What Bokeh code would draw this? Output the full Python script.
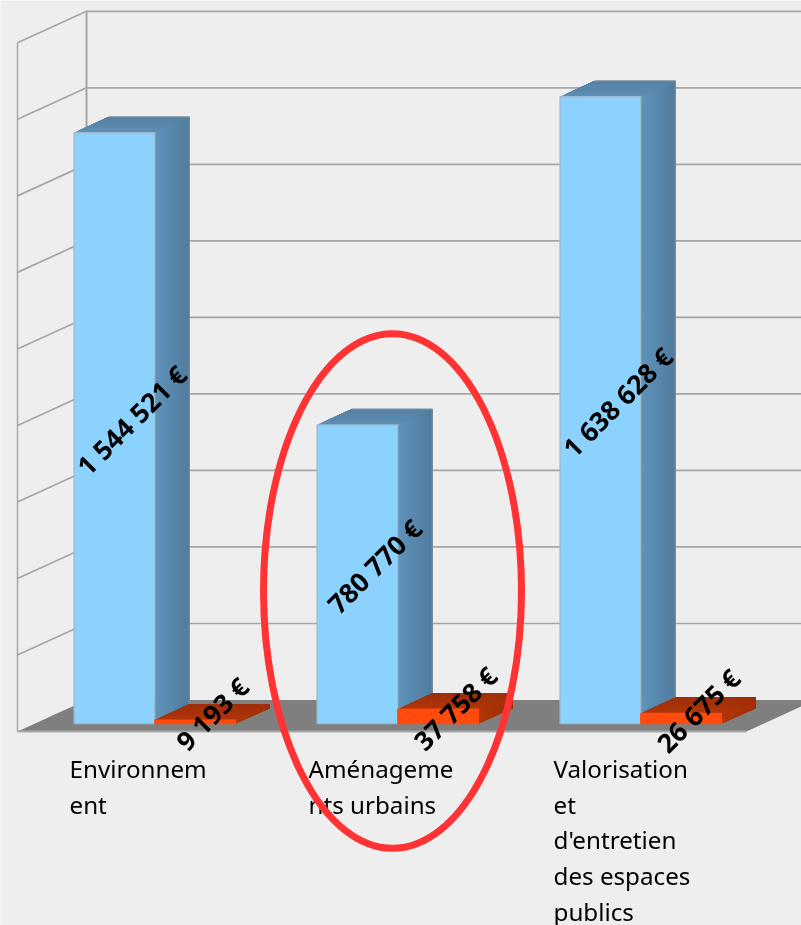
from bokeh.plotting import figure
from bokeh.embed import file_html
from bokeh.resources import INLINE
from bokeh.core.properties import value

categories = [["Environnem", "ent"], ["Aménageme", "nts urbains"],
              ["Valorisation", "et", "d'entretien", "des espaces", "publics"]]
series_a = [1544521, 780770, 1638628]
series_b = [9193, 37758, 26675]
labels_a = ["1 544 521 €", "780 770 €", "1 638 628 €"]
labels_b = ["9 193 €", "37 758 €", "26 675 €"]
ticks = [0, 200000, 400000, 600000, 800000, 1000000, 1200000, 1400000, 1600000, 1800000]
label_offsets = [52, 48, 50]

PX_X = 243.0
PX_Y = 1 / 3.826e-4
WIDTH, HEIGHT = 801, 925
DX = 69 / PX_X
DY = 31.5 * PX_Y
BAR = 80.7 / PX_X
GAP = 39.3 / PX_X
Z0, Z1 = 0.25, 0.75


def xy(x, v, z):
    return x + DX * z, v + DY * z


p = figure(width=WIDTH, height=HEIGHT, output_backend="svg", toolbar_location=None,
           x_range=(-17 / PX_X, (WIDTH - 17) / PX_X),
           y_range=(-(HEIGHT - 731) * PX_Y, 731 * PX_Y),
           min_border=0, outline_line_color=None,
           background_fill_color="#eeeeee", border_fill_color="#eeeeee",
           styles={"position": "fixed", "left": "0", "top": "0"})
p.axis.visible = False
p.grid.visible = False

GRID = "#a6a6a6"
n = len(categories)
top = ticks[-1]
# walls
p.multi_line([[xy(0, v, 0)[0], xy(0, v, 1)[0], xy(n, v, 1)[0]] for v in ticks[1:]],
             [[xy(0, v, 0)[1], xy(0, v, 1)[1], xy(n, v, 1)[1]] for v in ticks[1:]],
             line_color=GRID, line_width=1.7)
p.line([xy(0, 0, 0)[0]] * 2, [0, top], line_color=GRID, line_width=1.5)
p.line([xy(0, 0, 1)[0]] * 2, [xy(0, 0, 1)[1], xy(0, top, 1)[1]], line_color=GRID, line_width=2)
# floor
fx, fy = zip(xy(0, 0, 0), xy(n, 0, 0), xy(n, 0, 1), xy(0, 0, 1))
p.patch(list(fx), list(fy), fill_color="#7f7f7f", line_color=None)
p.line([xy(0, 0, 0)[0], xy(n, 0, 0)[0]], [0, 0], line_color="#a8a8a8", line_width=2)


def mix(c0, c1, t):
    return "#" + "".join(f"{round(a + (b - a) * t):02x}" for a, b in zip(c0, c1))


def box(x, v, front, side0, side1, top0, top1, edge, back_edge, strips=17):
    for i in range(strips):
        t0 = i / strips
        z0 = Z0 + (Z1 - Z0) * t0
        a, b, c, d = xy(x + BAR, 0, z0), xy(x + BAR, 0, Z1), xy(x + BAR, v, Z1), xy(x + BAR, v, z0)
        col = mix(side0, side1, t0 + 0.5 / strips)
        p.patch([a[0], b[0], c[0], d[0]], [a[1], b[1], c[1], d[1]], fill_color=col, line_color=None)
    for i in range(strips):
        t0 = i / strips
        z0 = Z0 + (Z1 - Z0) * t0
        a, b, c, d = xy(x, v, z0), xy(x + BAR, v, z0), xy(x + BAR, v, Z1), xy(x, v, Z1)
        col = mix(top0, top1, t0 + 0.5 / strips)
        p.patch([a[0], b[0], c[0], d[0]], [a[1], b[1], c[1], d[1]], fill_color=col, line_color=None)
    if back_edge:
        a, b, c = xy(x, v, Z1), xy(x + BAR, v, Z1), xy(x + BAR, 0, Z1)
        p.line([a[0], b[0], c[0]], [a[1], b[1], c[1]], line_color=back_edge, line_width=1.2)
    a, b, c, d = xy(x, 0, Z0), xy(x + BAR, 0, Z0), xy(x + BAR, v, Z0), xy(x, v, Z0)
    p.patch([a[0], b[0], c[0], d[0]], [a[1], b[1], c[1], d[1]], fill_color=front,
            line_color=edge, line_width=1.2)


BLUE = dict(front="#8bd2ff", side0=(0x5f, 0x93, 0xba), side1=(0x50, 0x7c, 0x9e),
            top0=(0x5d, 0x8f, 0xb5), top1=(0x55, 0x80, 0xa2), edge="#9db8c8", back_edge="#7d8c98")
RED = dict(front="#ff4b0d", side0=(0xb0, 0x36, 0x0a), side1=(0xa0, 0x2e, 0x08),
           top0=(0xb0, 0x36, 0x0a), top1=(0x9e, 0x2e, 0x08), edge="#ff4b0d", back_edge=None)

lab_x, lab_y, lab_t = [], [], []
for i in range(n):
    x_a = i + GAP
    x_b = x_a + BAR
    box(x_a, series_a[i], **BLUE)
    box(x_b, series_b[i], **RED)
    for x0, v, t in ((x_a, series_a[i], labels_a[i]), (x_b, series_b[i], labels_b[i])):
        cx, cy = xy(x0 + BAR / 2, v / 2, 0.5)
        lab_x.append(cx)
        lab_y.append(cy)
        lab_t.append(t)

p.text(lab_x, lab_y, text=lab_t, angle=45, angle_units="deg", text_align="center",
       text_baseline="middle", text_color="#000000", text_font=value("Noto Sans"),
       text_font_style="bold", text_font_size="26.5px")

# category labels
cat_x, cat_y, cat_t = [], [], []
LINE = 35.8 * PX_Y
for i, lines in enumerate(categories):
    for j, s in enumerate(lines):
        cat_x.append(i + label_offsets[i] / PX_X)
        cat_y.append(-36.8 * PX_Y - j * LINE)
        cat_t.append(s)
p.text(cat_x, cat_y, text=cat_t, text_align="left", text_baseline="middle", text_color="#000000",
       text_font=value("Noto Sans"), text_font_size="24.2px")

# highlight
p.ellipse([(392 - 17) / PX_X], [(731 - 590.5) * PX_Y], width=258 / PX_X, height=515 * PX_Y,
          fill_color=None, line_color="#ff3333", line_width=7)

open("out.html", "w").write(file_html(p, INLINE))
